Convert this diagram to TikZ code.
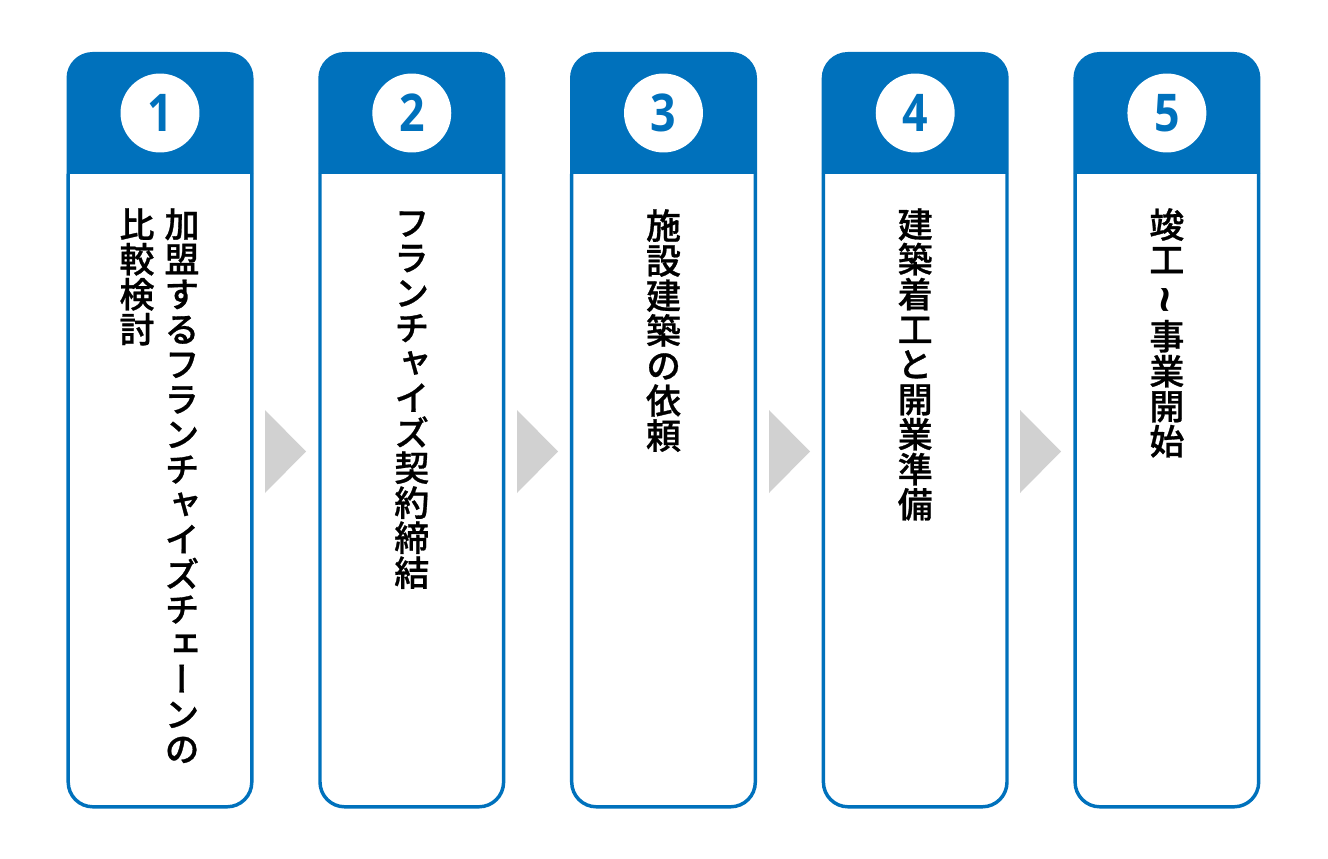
\documentclass[tikz,border=0pt]{standalone}
\usepackage{fontspec}
\newfontfamily\jpfont[RawFeature=+vert,FakeBold=0.8]{Noto Sans CJK JP Medium}
\newfontfamily\numfont[FakeStretch=0.86]{Open Sans}
\newfontfamily\wavefont{Open Sans}
\definecolor{stepblue}{RGB}{0,113,188}
\definecolor{arrowgray}{RGB}{209,209,209}
\tikzset{
  cardbody/.style={draw=stepblue,line width=2.6pt,rounded corners=18.5pt},
  cardhead/.style={fill=stepblue},
  stepcircle/.style={circle,fill=white,minimum size=59.2pt,inner sep=0pt,text=stepblue,font=\numfont\bfseries\fontsize{39}{39}\selectfont},
  stepgap/.style={fill=arrowgray},
  tatetext/.style={anchor=north,align=center,inner sep=0pt,font=\jpfont\fontsize{26.25}{26.25}\selectfont,execute at begin node={\rule{0pt}{22.5pt}}}
}

\begin{document}
\begin{tikzpicture}[x=0.75pt,y=0.75pt,yscale=-1,xscale=1]
\useasboundingbox (0,0) rectangle (1328,859);

%Shape: Card 1
\draw [cardbody] (68.2,174) -- (68.2,806.8) -- (251.8,806.8) -- (251.8,174);
\fill [cardhead] (66.5,174) [rounded corners=19.5pt] -- (66.5,52) -- (253.5,52) [sharp corners] -- (253.5,174) -- cycle;
%Shape: Card 2
\draw [cardbody] (320,174) -- (320,806.8) -- (503.6,806.8) -- (503.6,174);
\fill [cardhead] (318.3,174) [rounded corners=19.5pt] -- (318.3,52) -- (505.3,52) [sharp corners] -- (505.3,174) -- cycle;
%Shape: Card 3
\draw [cardbody] (571.7,174) -- (571.7,806.8) -- (755.3,806.8) -- (755.3,174);
\fill [cardhead] (570,174) [rounded corners=19.5pt] -- (570,52) -- (757,52) [sharp corners] -- (757,174) -- cycle;
%Shape: Card 4
\draw [cardbody] (823.4,174) -- (823.4,806.8) -- (1007,806.8) -- (1007,174);
\fill [cardhead] (821.7,174) [rounded corners=19.5pt] -- (821.7,52) -- (1008.7,52) [sharp corners] -- (1008.7,174) -- cycle;
%Shape: Card 5
\draw [cardbody] (1075.1,174) -- (1075.1,806.8) -- (1258.7,806.8) -- (1258.7,174);
\fill [cardhead] (1073.4,174) [rounded corners=19.5pt] -- (1073.4,52) -- (1260.4,52) [sharp corners] -- (1260.4,174) -- cycle;

%Shape: Triangles between cards
\fill [stepgap] (265,410) -- (306,451.5) -- (265,493) -- cycle;
\fill [stepgap] (517,410) -- (558,451.5) -- (517,493) -- cycle;
\fill [stepgap] (769,410) -- (810,451.5) -- (769,493) -- cycle;
\fill [stepgap] (1020,410) -- (1061,451.5) -- (1020,493) -- cycle;

% Number circles
\node [stepcircle] (circone) at (160,113) {1};
\node [stepcircle] (circtwo) at (411.8,113) {2};
\node [stepcircle] (circthree) at (663.5,113) {3};
\node [stepcircle] (circfour) at (915.2,113) {4};
\node [stepcircle] (circfive) at (1166.9,113) {5};

% Text Node
\node [tatetext] (labelonea) at (182,208) {加\\盟\\す\\る\\フ\\ラ\\ン\\チ\\ャ\\イ\\ズ\\チ\\ェ\\ー\\ン\\の};
\node [tatetext] (labeloneb) at (137,208) {比\\較\\検\\討};
% Text Node
\node [tatetext] (labeltwo) at (411.8,211) {フ\\ラ\\ン\\チ\\ャ\\イ\\ズ\\契\\約\\締\\結};
% Text Node
\node [tatetext] (labelthree) at (663.5,209) {施\\設\\建\\築\\の\\依\\頼};
% Text Node
\node [tatetext] (labelfour) at (915.2,208) {建\\築\\着\\工\\と\\開\\業\\準\\備};
% Text Node
\node [tatetext] (labelfive) at (1166.9,208) {竣\\工\\[2.5pt]\raisebox{1pt}{\scalebox{1.35}{\rotatebox[origin=c]{-90}{\wavefont\bfseries\symbol{126}}}}\kern12pt\\[2.5pt]事\\業\\開\\始};

\end{tikzpicture}
\end{document}
